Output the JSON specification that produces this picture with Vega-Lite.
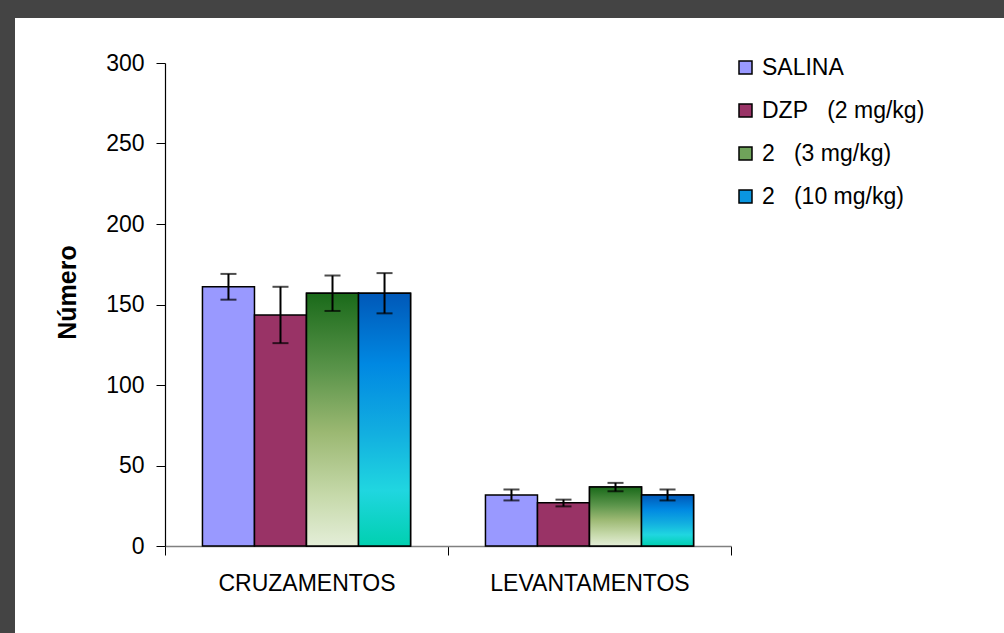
{
  "$schema": "https://vega.github.io/schema/vega-lite/v6.json",
  "width": 989,
  "height": 615,
  "autosize": {"type": "none"},
  "padding": {"left": 15, "top": 18, "right": 0, "bottom": 0},
  "background": "#444444",
  "config": {
    "view": {"fill": "white", "stroke": null},
    "font": "Liberation Sans",
    "axis": {"labelColor": "black", "tickColor": "black", "titleColor": "black", "grid": false, "labelFont": "Liberation Sans", "titleFont": "Liberation Sans"},
    "legend": {"labelFont": "Liberation Sans"}
  },
  "data": {"values": [
    {"cat": "CRUZAMENTOS", "series": "SALINA", "value": 161, "lo": 153, "hi": 169},
    {"cat": "CRUZAMENTOS", "series": "DZP\u00a0\u00a0\u00a0(2 mg/kg)", "value": 143.5, "lo": 126, "hi": 161},
    {"cat": "CRUZAMENTOS", "series": "2\u00a0\u00a0\u00a0(3 mg/kg)", "value": 157, "lo": 146, "hi": 168},
    {"cat": "CRUZAMENTOS", "series": "2\u00a0\u00a0\u00a0(10 mg/kg)", "value": 157, "lo": 144.5, "hi": 169.5},
    {"cat": "LEVANTAMENTOS", "series": "SALINA", "value": 31.7, "lo": 28.3, "hi": 35.1},
    {"cat": "LEVANTAMENTOS", "series": "DZP\u00a0\u00a0\u00a0(2 mg/kg)", "value": 26.9, "lo": 24.6, "hi": 28.8},
    {"cat": "LEVANTAMENTOS", "series": "2\u00a0\u00a0\u00a0(3 mg/kg)", "value": 36.6, "lo": 34, "hi": 39.2},
    {"cat": "LEVANTAMENTOS", "series": "2\u00a0\u00a0\u00a0(10 mg/kg)", "value": 31.7, "lo": 28.3, "hi": 35.1}
  ]},
  "encoding": {
    "x": {
      "field": "cat", "type": "nominal", "sort": null,
      "scale": {"range": [150, 716], "paddingInner": 0, "paddingOuter": 0},
      "axis": {
        "title": null, "labelAngle": 0, "labelFontSize": 23, "labelLimit": 0, "tickBand": "extent",
        "tickSize": 9, "tickWidth": 1, "labelPadding": 17, "domainColor": "#808080",
        "domainWidth": 1.5, "offset": -87, "zindex": 0
      }
    },
    "xOffset": {
      "field": "series", "type": "nominal",
      "sort": ["SALINA", "DZP\u00a0\u00a0\u00a0(2 mg/kg)", "2\u00a0\u00a0\u00a0(3 mg/kg)", "2\u00a0\u00a0\u00a0(10 mg/kg)"],
      "scale": {"paddingInner": 0, "paddingOuter": 0.72}
    }
  },
  "layer": [
    {
      "mark": {"type": "bar", "stroke": "black", "strokeWidth": 1.5},
      "encoding": {
        "y": {
          "field": "value", "type": "quantitative",
          "scale": {"domain": [0, 300], "range": [528, 45], "nice": false, "zero": true},
          "axis": {
            "title": "Número", "titleFontSize": 25, "titleFontWeight": "bold", "titlePadding": 25,
            "titleY": 274,
            "values": [0, 50, 100, 150, 200, 250, 300], "labelFontSize": 23, "tickSize": 9,
            "labelPadding": 12, "domainColor": "black", "domainWidth": 1.2, "offset": -150, "zindex": 0
          }
        },
        "color": {
          "field": "series", "type": "nominal",
          "sort": ["SALINA", "DZP\u00a0\u00a0\u00a0(2 mg/kg)", "2\u00a0\u00a0\u00a0(3 mg/kg)", "2\u00a0\u00a0\u00a0(10 mg/kg)"],
          "scale": {"range": ["#9999FF", "#993366", "#6fa35a", "#0a96e0"]},
          "legend": {
            "orient": "none", "legendX": 719, "legendY": 38, "title": null,
            "symbolType": "square", "symbolSize": 169, "symbolStrokeColor": "black",
            "symbolStrokeWidth": 1.5, "labelFontSize": 23, "labelColor": "black", "labelLimit": 0,
            "rowPadding": 19, "labelOffset": 5, "padding": 0
          }
        }
      }
    },
    {
      "transform": [{"filter": {"field": "series", "equal": "2\u00a0\u00a0\u00a0(3 mg/kg)"}}],
      "mark": {
        "type": "bar", "stroke": "black", "strokeWidth": 1.5,
        "fill": {
          "gradient": "linear", "x1": 0, "y1": 0, "x2": 0, "y2": 1,
          "stops": [
            {"offset": 0, "color": "#1a6a1a"},
            {"offset": 0.3, "color": "#5a944a"},
            {"offset": 0.55, "color": "#9bb872"},
            {"offset": 0.8, "color": "#c6d9aa"},
            {"offset": 1, "color": "#e4eed8"}
          ]
        }
      },
      "encoding": {"y": {"field": "value", "type": "quantitative"}}
    },
    {
      "transform": [{"filter": {"field": "series", "equal": "2\u00a0\u00a0\u00a0(10 mg/kg)"}}],
      "mark": {
        "type": "bar", "stroke": "black", "strokeWidth": 1.5,
        "fill": {
          "gradient": "linear", "x1": 0, "y1": 0, "x2": 0, "y2": 1,
          "stops": [
            {"offset": 0, "color": "#0058b8"},
            {"offset": 0.28, "color": "#0088e2"},
            {"offset": 0.55, "color": "#12aee0"},
            {"offset": 0.78, "color": "#20d6e0"},
            {"offset": 1, "color": "#00d0b0"}
          ]
        }
      },
      "encoding": {"y": {"field": "value", "type": "quantitative"}}
    },
    {
      "mark": {"type": "rule", "color": "black", "strokeWidth": 2},
      "encoding": {
        "y": {"field": "lo", "type": "quantitative"},
        "y2": {"field": "hi"}
      }
    },
    {
      "mark": {"type": "tick", "color": "black", "size": 16, "thickness": 2},
      "encoding": {"y": {"field": "hi", "type": "quantitative"}}
    },
    {
      "mark": {"type": "tick", "color": "black", "size": 16, "thickness": 2},
      "encoding": {"y": {"field": "lo", "type": "quantitative"}}
    }
  ]
}
